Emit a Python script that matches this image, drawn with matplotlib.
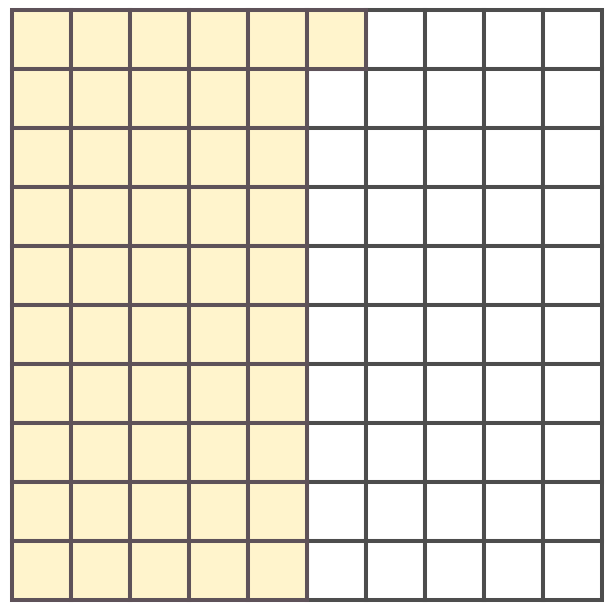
import matplotlib
matplotlib.use("Agg")
import matplotlib.pyplot as plt
from matplotlib.patches import Rectangle

n_rows = 10
n_cols = 10
shaded_count = 51
fill_color = "#fff4cc"
shaded_edge = "#5e5259"
plain_edge = "#4d4d4d"

fig = plt.figure(figsize=(6.15, 6.09), dpi=100)
ax = fig.add_axes([12/615, 9/609, 590/615, 590/609])
ax.set_xlim(0, n_cols)
ax.set_ylim(n_rows, 0)
ax.axis("off")

lw = 2.9
shaded = set()
for i in range(shaded_count):
    shaded.add((i // n_rows, i % n_rows))

for c in range(n_cols):
    for r in range(n_rows):
        if (c, r) not in shaded:
            ax.add_patch(Rectangle((c, r), 1, 1, facecolor="white",
                                   edgecolor=plain_edge, linewidth=lw, clip_on=False))
for c in range(n_cols):
    for r in range(n_rows):
        if (c, r) in shaded:
            ax.add_patch(Rectangle((c, r), 1, 1, facecolor=fill_color,
                                   edgecolor=shaded_edge, linewidth=lw, clip_on=False))

fig.savefig("out.png", dpi=100)
